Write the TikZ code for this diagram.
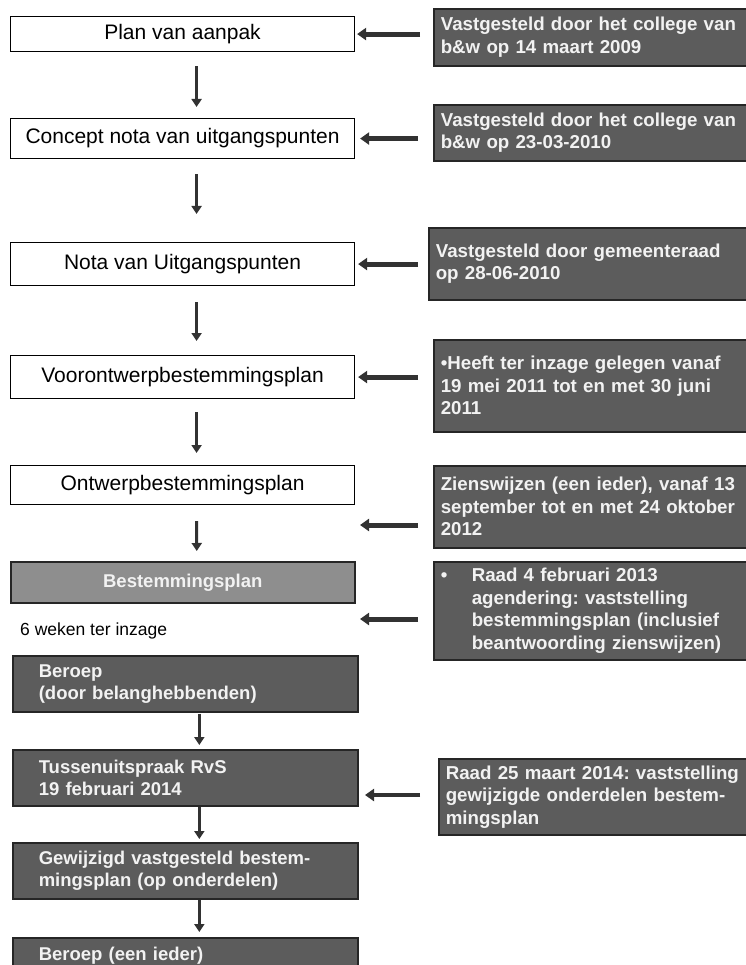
\documentclass[tikz,border=0pt]{standalone}
\usepackage{fontspec}
\setmainfont{Liberation Sans}
\usetikzlibrary{arrows.meta}
\frenchspacing

\definecolor{boxdark}{RGB}{92,92,92}
\definecolor{boxmid}{RGB}{142,142,142}
\definecolor{boxline}{RGB}{38,38,38}
\definecolor{arrowgray}{RGB}{50,50,50}
\definecolor{txtlight}{RGB}{242,242,242}

\begin{document}
\begin{tikzpicture}[x=1pt, y=-1pt,
  stapbox/.style={draw=black, line width=1.1pt, fill=white, anchor=north west,
    minimum width=344pt, inner sep=0pt, align=center,
    font=\fontsize{21}{24}\selectfont},
  plangbox/.style={stapbox, draw=boxline, line width=1.6pt, fill=boxmid,
    text=txtlight, font=\fontsize{18.5}{22}\selectfont\bfseries},
  donkerbox/.style={draw=boxline, line width=1.6pt, fill=boxdark, anchor=north west,
    text=txtlight, align=left, text width=293pt, inner xsep=26pt, inner ysep=0pt,
    font=\fontsize{18.5}{22}\selectfont\bfseries},
  besluitbox/.style={donkerbox, text width=312pt, inner xsep=7pt,
    font=\fontsize{18.7}{22.5}\selectfont\bfseries},
  pijl/.style={arrowgray, line width=3pt, -{Triangle[length=8pt,width=10pt]}},
  zijpijl/.style={arrowgray, line width=5pt, -{Triangle[length=9pt,width=12pt]}}
]

% Rand van de figuur
\useasboundingbox (0,0) rectangle (745,965);

% Stappen links
\node[stapbox, minimum height=35pt] (aanpak) at (10,16) {Plan van aanpak};
\node[stapbox, minimum height=40pt] (concept) at (10,118) {Concept nota van uitgangspunten};
\node[stapbox, minimum height=43pt] (nota) at (10,242) {Nota van Uitgangspunten};
\node[stapbox, minimum height=43pt] (voorontwerp) at (10,355) {Voorontwerpbestemmingsplan};
\node[stapbox, minimum height=39pt] (ontwerp) at (10,465) {Ontwerpbestemmingsplan};
\node[plangbox, minimum height=41pt] (bplan) at (10,561) {Bestemmingsplan};

% Inzage
\node[anchor=west, inner sep=0pt, font=\fontsize{17.5}{20}\selectfont] (inzage) at (20,631) {6 weken ter inzage};

% Beroep en uitspraak
\node[donkerbox, minimum height=56pt] (beroep) at (12,655) {Beroep\\(door belanghebbenden)};
\node[donkerbox, minimum height=56pt] (tussen) at (12,749) {Tussenuitspraak RvS\\19 februari 2014};
\node[donkerbox, minimum height=56pt] (gewijzigd) at (12,842) {Gewijzigd vastgesteld bestem-\\mingsplan (op onderdelen)};
\node[donkerbox, minimum height=50pt] (beroepieder) at (12,937) {Beroep (een ieder)\\[-4pt]~};

% Besluiten rechts
\node[besluitbox, minimum height=57pt] (b1) at (433,8) {Vastgesteld door het college van\\b\&w op 14 maart 2009};
\node[besluitbox, minimum height=56pt] (b2) at (433,104) {Vastgesteld door het college van\\b\&w op 23-03-2010};
\node[besluitbox, minimum height=72pt] (b3) at (428,227) {Vastgesteld door gemeenteraad\\op 28-06-2010};
\node[besluitbox, minimum height=92pt] (b4) at (433,339) {\textbullet Heeft ter inzage gelegen vanaf\\19 mei 2011 tot en met 30 juni\\2011};
\node[besluitbox, minimum height=82pt] (b5) at (433,465) {Zienswijzen (een ieder), vanaf 13\\september tot en met 24 oktober\\2012};
\node[besluitbox, minimum height=98pt] (b6) at (433,561) {\makebox[31pt][l]{\textbullet}Raad 4 februari 2013\\\hspace*{31pt}agendering: vaststelling\\\hspace*{31pt}bestemmingsplan (inclusief\\\hspace*{31pt}beantwoording zienswijzen)};
\node[besluitbox, minimum height=76pt] (b7) at (438,758) {Raad 25 maart 2014: vaststelling\\gewijzigde onderdelen bestem-\\mingsplan};

% Losse eindpunten
\coordinate (p5) at (418,525);
\coordinate (q5) at (360,525);
\coordinate (p6) at (418,619);
\coordinate (q6) at (360,619);
\coordinate (p7) at (420,795);
\coordinate (q7) at (365,795);

% Pijlen omlaag
\draw[pijl, shorten <=14pt, shorten >=11pt] ([xshift=14pt]aanpak.south) -- ([xshift=14pt]concept.north);
\draw[pijl, shorten <=15pt, shorten >=28pt] ([xshift=14pt]concept.south) -- ([xshift=14pt]nota.north);
\draw[pijl, shorten <=16pt, shorten >=14pt] ([xshift=14pt]nota.south) -- ([xshift=14pt]voorontwerp.north);
\draw[pijl, shorten <=13pt, shorten >=12pt] ([xshift=14pt]voorontwerp.south) -- ([xshift=14pt]ontwerp.north);
\draw[pijl, shorten <=16pt, shorten >=10pt] ([xshift=14pt]ontwerp.south) -- ([xshift=14pt]bplan.north);
\draw[pijl, shorten <=1pt, shorten >=4pt] ([xshift=14pt]beroep.south) -- ([xshift=14pt]tussen.north);
\draw[pijl, shorten >=3pt] ([xshift=14pt]tussen.south) -- ([xshift=14pt]gewijzigd.north);
\draw[pijl, shorten >=5pt] ([xshift=14pt]gewijzigd.south) -- ([xshift=14pt]beroepieder.north);

% Pijlen van besluit naar stap
\draw[zijpijl, shorten <=13pt, shorten >=2pt] (b1.west |- aanpak.east) -- (aanpak.east);
\draw[zijpijl, shorten <=15pt, shorten >=5pt] (b2.west |- concept.east) -- (concept.east);
\draw[zijpijl, shorten <=10pt, shorten >=3pt] (b3.west |- nota.east) -- (nota.east);
\draw[zijpijl, shorten <=15pt, shorten >=3pt] (b4.west |- voorontwerp.east) -- (voorontwerp.east);
\draw[zijpijl] (p5) -- (q5);
\draw[zijpijl] (p6) -- (q6);
\draw[zijpijl, line width=4pt] (p7) -- (q7);

\end{tikzpicture}
\end{document}
